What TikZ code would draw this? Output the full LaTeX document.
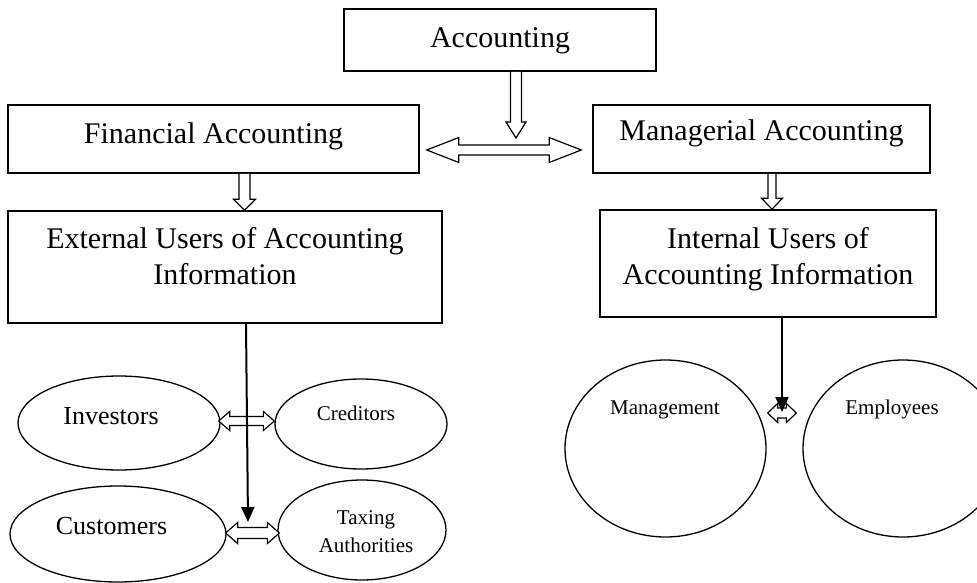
\documentclass[tikz,border=0pt]{standalone}
\usepackage{fontspec}
\setmainfont{Liberation Serif}
\usetikzlibrary{calc,arrows.meta,shapes.geometric}
% vertical hollow arrow: start, tip, shaft half width, head half width, head length
\newcommand\vhollow[5]{\path[hollowline] let \p1=(#1), \p2=(#2) in
 (\x1-#3pt,\y1) -- (\x1-#3pt,\y2+#5pt) -- (\x1-#4pt,\y2+#5pt) -- (\x1,\y2)
 -- (\x1+#4pt,\y2+#5pt) -- (\x1+#3pt,\y2+#5pt) -- (\x1+#3pt,\y1);}
% horizontal double hollow arrow: left tip, right tip, shaft hw, head hw, head length
\newcommand\dhollow[5]{\path[hollowline] let \p1=(#1), \p2=(#2) in
 (\x1,\y1) -- (\x1+#5pt,\y1+#4pt) -- (\x1+#5pt,\y1+#3pt) -- (\x2-#5pt,\y1+#3pt)
 -- (\x2-#5pt,\y1+#4pt) -- (\x2,\y1) -- (\x2-#5pt,\y1-#4pt) -- (\x2-#5pt,\y1-#3pt)
 -- (\x1+#5pt,\y1-#3pt) -- (\x1+#5pt,\y1-#4pt) -- cycle;}
\begin{document}
\begin{tikzpicture}[x=1pt,y=-1pt,
 box/.style={draw, line width=1.6pt, inner sep=0pt, rectangle},
 oval/.style={draw, ellipse, line width=1.3pt, inner sep=0pt},
 big/.style={font=\fontsize{30}{36}\selectfont, anchor=base, align=center, inner sep=0pt},
 mid/.style={font=\fontsize{26}{31}\selectfont, anchor=base, inner sep=0pt},
 small/.style={font=\fontsize{21}{28}\selectfont, anchor=base, align=center, inner sep=0pt},
 hollowline/.style={draw, line width=1.2pt, fill=white, line join=miter},
 solidarrow/.style={draw, line width=2pt, -{Triangle[length=15pt,width=13pt]}}]
\useasboundingbox (0,0) rectangle (977,583);
\clip (0,0) rectangle (977,583);
\fill[white] (0,0) rectangle (977,583);

% boxes
\node[box, minimum width=312pt, minimum height=62pt] (acc) at (500,40) {};
\node[box, minimum width=411pt, minimum height=68pt] (fin) at (213.5,139) {};
\node[box, minimum width=337pt, minimum height=68pt] (man) at (761.5,139) {};
\node[box, minimum width=434pt, minimum height=112pt] (ext) at (225,267) {};
\node[box, minimum width=336pt, minimum height=107pt] (int) at (768,263.5) {};

\node[big] (tacc) at (500,48) {Accounting};
\node[big] (tfin) at (213.5,144) {Financial Accounting};
\node[big] (tman) at (761.5,141) {Managerial Accounting};
\node[big] (text) at (225,284) {External Users of Accounting\\Information};
\node[big] (tint) at (768,284) {Internal Users of\\Accounting Information};

% ellipses
\node[oval, minimum width=202pt, minimum height=94pt] (inv) at (119,423) {};
\node[oval, minimum width=172pt, minimum height=90pt] (cred) at (361,424) {};
\node[oval, minimum width=216pt, minimum height=96pt] (cust) at (118,534) {};
\node[oval, minimum width=168pt, minimum height=100pt] (tax) at (362,530) {};
\node[oval, minimum width=201pt, minimum height=177pt] (mgmt) at (665.5,448.5) {};
\node[oval, minimum width=200pt, minimum height=177pt] (emp) at (903,448.5) {};

\node[mid] (tinv) at (111,424) {Investors};
\node[small] (tcred) at (356,420) {Creditors};
\node[mid] (tcust) at (111.5,534) {Customers};
\node[small] (ttax) at (366,552) {Taxing\\Authorities};
\node[small] (tmgmt) at (665,414) {Management};
\node[small] (temp) at (892,414) {Employees};

% hollow arrows
\coordinate (a1s) at ($(acc.south)+(16,0)$);
\coordinate (a1e) at (516,138);
\vhollow{a1s}{a1e}{5.5}{10}{16}
\coordinate (a2s) at ($(fin.south)+(31,0)$);
\coordinate (a2e) at ($(ext.north)+(19.5,0)$);
\vhollow{a2s}{a2e}{5.5}{11}{11}
\coordinate (a3s) at ($(man.south)+(10.5,0)$);
\coordinate (a3e) at ($(int.north)+(4,0)$);
\vhollow{a3s}{a3e}{4}{10.5}{11}

\coordinate (d1l) at ($(fin.east)+(7,11)$);
\coordinate (d1r) at ($(man.west)+(-11,11)$);
\dhollow{d1l}{d1r}{5}{12.5}{32}
\coordinate (d2l) at ($(inv.east)+(-2,-2)$);
\coordinate (d2r) at ($(cred.west)+(0,-3)$);
\dhollow{d2l}{d2r}{4.5}{9.5}{11}
\coordinate (d3l) at ($(cust.east)+(-1,-1)$);
\coordinate (d3r) at ($(tax.west)+(2,3)$);
\dhollow{d3l}{d3r}{5.5}{10.5}{12}
\coordinate (d4l) at ($(mgmt.east)+(1,-35.5)$);
\coordinate (d4r) at ($(emp.west)+(-6,-35.5)$);
\dhollow{d4l}{d4r}{5}{9.5}{10}

% solid arrows
\coordinate (l1e) at (248,522);
\draw[solidarrow] ($(ext.south)+(21,0)$) -- (l1e);
\coordinate (l2e) at (782,412);
\draw[solidarrow] ($(int.south)+(14,0)$) -- (l2e);
\end{tikzpicture}
\end{document}
